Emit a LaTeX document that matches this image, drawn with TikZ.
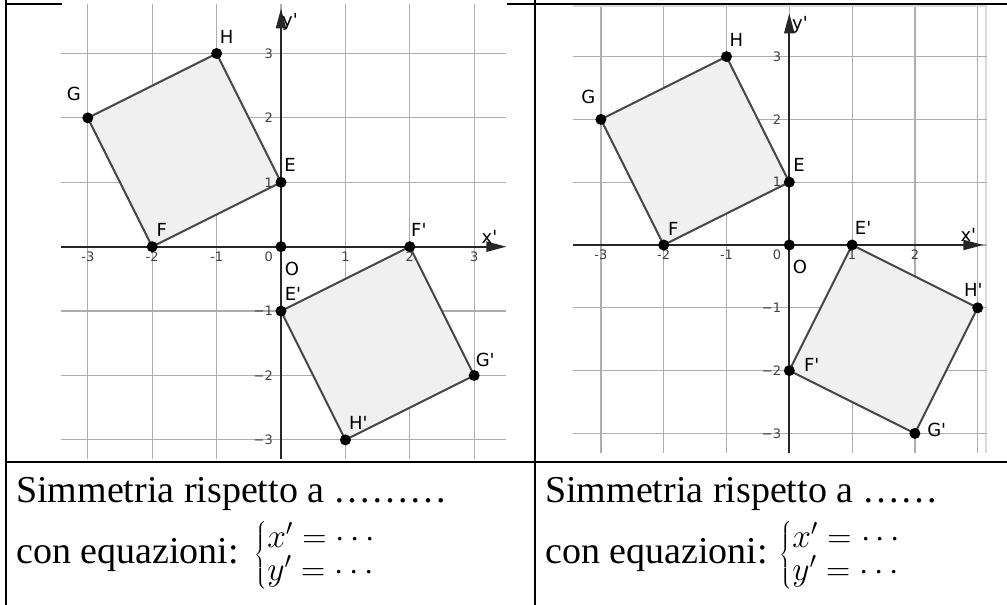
\RequirePackage{fix-cm}
\documentclass[tikz,border=0pt]{standalone}
\usepackage{graphicx}
\usepackage{fontspec}
\setmainfont{Liberation Serif}
\newfontfamily\geofont{DejaVu Sans}[Ligatures=TeXOff]
\usetikzlibrary{arrows.meta}
\renewcommand{\arraystretch}{0.69}
\newcommand{\eqbrace}{\scalebox{1.4}{\fontsize{24}{28}\selectfont$\left\{\begin{array}{@{}l@{}}x'=\cdots\\ y'=\cdots\end{array}\right.$}}

\begin{document}
\begin{tikzpicture}[
    x=1pt, y=1pt,
    rule/.style={line width=2pt},
    gridline/.style={draw=black!32, line width=1.2pt},
    axis/.style={draw=black!85, line width=2pt, -{Triangle[length=20pt,width=10pt]}},
    square/.style={draw=black!72, fill=black!6, line width=2pt, line join=round},
    dot/.style={circle, fill=black, inner sep=0pt, minimum size=11pt},
    tick/.style={font=\geofont\fontsize{13}{13}\selectfont, text=black!75, inner sep=1pt},
    vlabel/.style={font=\geofont\fontsize{18}{18}\selectfont, inner sep=0pt},
    cell/.style={font=\fontsize{38}{44}\selectfont, anchor=base west, inner sep=0pt}
]
    \useasboundingbox (0,0) rectangle (1007,605);

    % --- TABLE RULES ---
    \coordinate (tl) at (6,605);
    \coordinate (bl) at (6,0);
    \coordinate (tm) at (535,605);
    \coordinate (bm) at (535,0);
    \draw[rule] (tl) -- (bl);
    \draw[rule] (tm) -- (bm);
    \draw[rule] (5,601) -- (1007,601);
    \draw[rule] (5,143) -- (1007,143);

    % White backgrounds of the two plots
    \fill[white] (61.7,146) rectangle (506.7,605);
    \fill[white] (573,152) rectangle (987,599.5);
    \draw[black!14, line width=1.5pt] (573,599) -- (986,599) -- (986,152);

    % --- LEFT PLOT (central symmetry) ---
    \begin{scope}[shift={(281pt,358.3pt)}, x=64.4pt, y=64.4pt]
        \draw[gridline, step={(1,1)}] (-3.41,-3.30) grid (3.5,3.77);

        % Axes
        \coordinate (lXa) at (-3.41,0);
        \coordinate (lXb) at (3.5,0);
        \coordinate (lYa) at (0,-3.30);
        \coordinate (lYb) at (0,3.70);

        % Vertices
        \coordinate (lO) at (0,0);
        \coordinate (lE) at (0,1);
        \coordinate (lF) at (-2,0);
        \coordinate (lG) at (-3,2);
        \coordinate (lH) at (-1,3);
        \coordinate (lEp) at (0,-1);
        \coordinate (lFp) at (2,0);
        \coordinate (lGp) at (3,-2);
        \coordinate (lHp) at (1,-3);

        \filldraw[square] (lE) -- (lF) -- (lG) -- (lH) -- cycle;
        \filldraw[square] (lEp) -- (lFp) -- (lGp) -- (lHp) -- cycle;

        \draw[axis] (lXa) -- (lXb);
        \draw[axis] (lYa) -- (lYb);

        % Tick labels
        \foreach \t [count=\i] in {-3,-2,-1,1,2,3}
            \node[tick, anchor=north, yshift=-4pt] (lx\i) at (\t,0) {\t};
        \foreach \t/\s [count=\i] in {-3/−3,-2/−2,-1/−1,1/1,2/2,3/3}
            \node[tick, anchor=east, xshift=-7pt] (ly\i) at (0,\t) {\s};
        \node[tick, anchor=north east, xshift=-7pt, yshift=-4pt] (l0) at (lO) {0};

        % Points
        \node[dot] (dlO) at (lO) {};
        \node[dot] (dlE) at (lE) {};
        \node[dot] (dlF) at (lF) {};
        \node[dot] (dlG) at (lG) {};
        \node[dot] (dlH) at (lH) {};
        \node[dot] (dlEp) at (lEp) {};
        \node[dot] (dlFp) at (lFp) {};
        \node[dot] (dlGp) at (lGp) {};
        \node[dot] (dlHp) at (lHp) {};

        % Point labels
        \node[vlabel] (nlO) at ([shift={(11pt,-22pt)}]lO) {O};
        \node[vlabel] (nlE) at ([shift={(9pt,17pt)}]lE) {E};
        \node[vlabel] (nlF) at ([shift={(9.5pt,17pt)}]lF) {F};
        \node[vlabel] (nlG) at ([shift={(-14pt,24pt)}]lG) {G};
        \node[vlabel] (nlH) at ([shift={(10pt,17pt)}]lH) {H};
        \node[vlabel] (nlEp) at ([shift={(12pt,17pt)}]lEp) {E'};
        \node[vlabel] (nlFp) at ([shift={(9pt,17pt)}]lFp) {F'};
        \node[vlabel] (nlGp) at ([shift={(11pt,16pt)}]lGp) {G'};
        \node[vlabel] (nlHp) at ([shift={(13pt,17pt)}]lHp) {H'};
        \node[vlabel] (nlX) at ([shift={(-17pt,9.5pt)}]lXb) {x'};
        \node[vlabel] (nlY) at ([shift={(9pt,-13.4pt)}]lYb) {y'};
    \end{scope}

    % --- RIGHT PLOT (axial symmetry) ---
    \begin{scope}[shift={(789.3pt,360pt)}, x=62.8pt, y=62.8pt]
        \draw[gridline, step={(1,1)}] (-3.44,-3.32) grid (3.14,3.79);

        % Axes
        \coordinate (rXa) at (-3.44,0);
        \coordinate (rXb) at (3.09,0);
        \coordinate (rYa) at (0,-3.32);
        \coordinate (rYb) at (0,3.69);

        % Vertices
        \coordinate (rO) at (0,0);
        \coordinate (rE) at (0,1);
        \coordinate (rF) at (-2,0);
        \coordinate (rG) at (-3,2);
        \coordinate (rH) at (-1,3);
        \coordinate (rEp) at (1,0);
        \coordinate (rFp) at (0,-2);
        \coordinate (rGp) at (2,-3);
        \coordinate (rHp) at (3,-1);

        \filldraw[square] (rE) -- (rF) -- (rG) -- (rH) -- cycle;
        \filldraw[square] (rEp) -- (rFp) -- (rGp) -- (rHp) -- cycle;

        \draw[axis] (rXa) -- (rXb);
        \draw[axis] (rYa) -- (rYb);

        % Tick labels
        \foreach \t [count=\i] in {-3,-2,-1,1,2}
            \node[tick, anchor=north, yshift=-4pt] (rx\i) at (\t,0) {\t};
        \foreach \t/\s [count=\i] in {-3/−3,-2/−2,-1/−1,1/1,2/2,3/3}
            \node[tick, anchor=east, xshift=-7pt] (ry\i) at (0,\t) {\s};
        \node[tick, anchor=north east, xshift=-7pt, yshift=-4pt] (r0) at (rO) {0};

        % Points
        \node[dot] (drO) at (rO) {};
        \node[dot] (drE) at (rE) {};
        \node[dot] (drF) at (rF) {};
        \node[dot] (drG) at (rG) {};
        \node[dot] (drH) at (rH) {};
        \node[dot] (drEp) at (rEp) {};
        \node[dot] (drFp) at (rFp) {};
        \node[dot] (drGp) at (rGp) {};
        \node[dot] (drHp) at (rHp) {};

        % Point labels
        \node[vlabel] (nrO) at ([shift={(10.7pt,-21.7pt)}]rO) {O};
        \node[vlabel] (nrE) at ([shift={(9.7pt,17pt)}]rE) {E};
        \node[vlabel] (nrF) at ([shift={(9.6pt,16pt)}]rF) {F};
        \node[vlabel] (nrG) at ([shift={(-12.6pt,22.7pt)}]rG) {G};
        \node[vlabel] (nrH) at ([shift={(10pt,16.6pt)}]rH) {H};
        \node[vlabel] (nrEp) at ([shift={(11pt,16.7pt)}]rEp) {E'};
        \node[vlabel] (nrFp) at ([shift={(22.4pt,5.6pt)}]rFp) {F'};
        \node[vlabel] (nrGp) at ([shift={(21.8pt,3.4pt)}]rGp) {G'};
        \node[vlabel] (nrHp) at ([shift={(-4.4pt,17.8pt)}]rHp) {H'};
        \node[vlabel] (nrX) at ([shift={(-15pt,10pt)}]rXb) {x'};
        \node[vlabel] (nrY) at ([shift={(10.7pt,-11.7pt)}]rYb) {y'};
    \end{scope}

    % --- TEXT ROW ---
    \node[cell] (symL) at (16,102) {Simmetria rispetto a ………};
    \node[cell] (eqL) at (16,41) {con equazioni:\hspace{16pt}\eqbrace};
    \node[cell] (symR) at (545,102) {Simmetria rispetto a ……};
    \node[cell] (eqR) at (545,41) {con equazioni:\hspace{12pt}\eqbrace};

\end{tikzpicture}
\end{document}
